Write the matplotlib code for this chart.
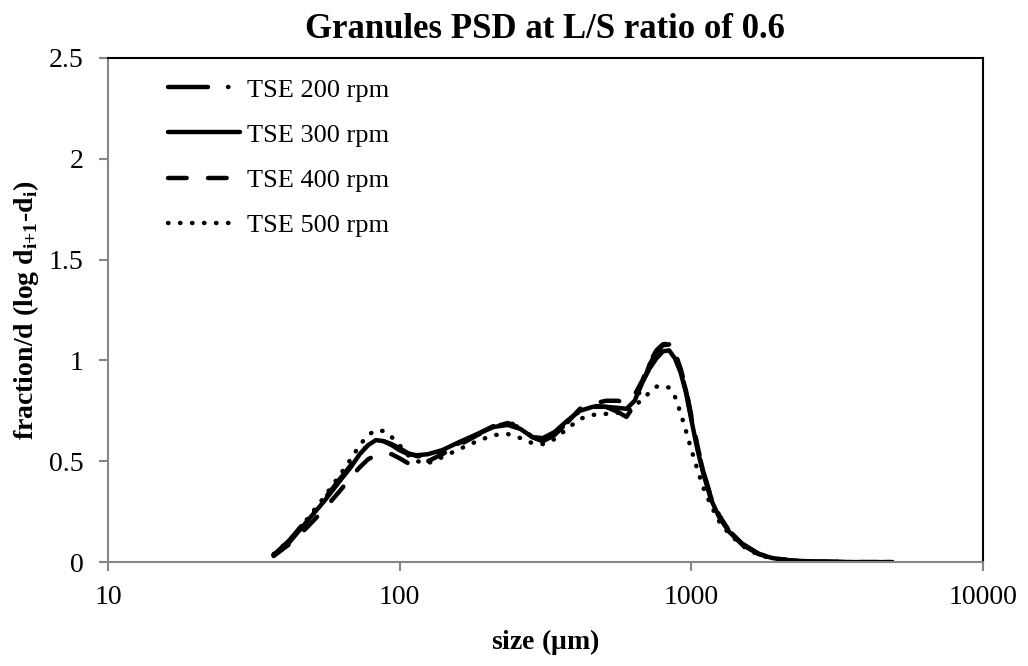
import numpy as np
import matplotlib
matplotlib.use("Agg")
import matplotlib.pyplot as plt

plt.rcParams['font.family'] = ['Liberation Serif', 'DejaVu Serif']
plt.rcParams['mathtext.fontset'] = 'custom'
plt.rcParams['mathtext.rm'] = 'Liberation Serif'
plt.rcParams['mathtext.bf'] = 'Liberation Serif:bold'

# particle size grid (um)
size = [37, 42, 48, 55, 63, 68, 73, 78, 83, 88, 94, 100, 107, 115, 125, 140, 160,
        185, 210, 235, 260, 285, 310, 340, 375, 415, 460, 510, 560, 600, 640, 680,
        720, 760, 800, 840, 880, 920, 960, 1000, 1050, 1100, 1170, 1250, 1350, 1500,
        1700, 1900, 2200, 2600, 3100, 3700, 4300, 4900]

tse_200 = [0.035, 0.11, 0.21, 0.31, 0.42, 0.48, 0.54, 0.58, 0.60, 0.60, 0.585, 0.565,
           0.54, 0.525, 0.525, 0.55, 0.59, 0.635, 0.675, 0.695, 0.67, 0.62, 0.60, 0.63,
           0.69, 0.75, 0.775, 0.77, 0.745, 0.72, 0.78, 0.88, 0.98, 1.04, 1.075, 1.08,
           1.03, 0.95, 0.85, 0.72, 0.57, 0.45, 0.32, 0.23, 0.155, 0.09, 0.042, 0.02,
           0.008, 0.003, 0.001, 0.0, 0.0, 0.0]
tse_300 = [0.035, 0.10, 0.20, 0.30, 0.41, 0.47, 0.535, 0.58, 0.605, 0.60, 0.58, 0.555,
           0.535, 0.53, 0.535, 0.555, 0.595, 0.635, 0.67, 0.68, 0.66, 0.62, 0.615, 0.645,
           0.70, 0.75, 0.77, 0.77, 0.765, 0.76, 0.80, 0.89, 0.96, 1.01, 1.045, 1.05,
           1.01, 0.94, 0.84, 0.71, 0.56, 0.44, 0.31, 0.22, 0.15, 0.085, 0.04, 0.02,
           0.008, 0.003, 0.001, 0.0, 0.0, 0.0]
tse_400 = [0.03, 0.09, 0.17, 0.26, 0.36, 0.42, 0.47, 0.51, 0.53, 0.54, 0.535, 0.515,
           0.49, 0.485, 0.50, 0.535, 0.58, 0.63, 0.67, 0.69, 0.665, 0.62, 0.60, 0.63,
           0.69, 0.76, 0.785, 0.80, 0.80, 0.79, 0.83, 0.90, 0.99, 1.05, 1.08, 1.085,
           1.04, 0.96, 0.86, 0.73, 0.58, 0.45, 0.32, 0.23, 0.155, 0.09, 0.042, 0.02,
           0.008, 0.003, 0.001, 0.0, 0.0, 0.0]
tse_500 = [0.04, 0.11, 0.21, 0.32, 0.44, 0.51, 0.58, 0.63, 0.655, 0.65, 0.62, 0.58,
           0.53, 0.50, 0.49, 0.52, 0.56, 0.60, 0.63, 0.635, 0.615, 0.59, 0.585, 0.61,
           0.66, 0.71, 0.73, 0.735, 0.74, 0.75, 0.77, 0.81, 0.84, 0.87, 0.875, 0.865,
           0.82, 0.74, 0.65, 0.56, 0.46, 0.37, 0.28, 0.20, 0.14, 0.08, 0.035, 0.018,
           0.007, 0.002, 0.001, 0.0, 0.0, 0.0]

labels = ['TSE 200 rpm', 'TSE 300 rpm', 'TSE 400 rpm', 'TSE 500 rpm']

fig = plt.figure(figsize=(10.28, 6.66), dpi=100)
ax = fig.add_axes([0.105, 0.156, 0.851, 0.757])

lw = 3.2
l1, = ax.plot(size, tse_200, color='black', lw=lw, dashes=(9, 4.5, 0.1, 4.5), label=labels[0])
l2, = ax.plot(size, tse_300, color='black', lw=lw, label=labels[1])
l3, = ax.plot(size, tse_400, color='black', lw=lw, dashes=(4.2, 4.8), label=labels[2])
l4, = ax.plot(size, tse_500, color='black', lw=lw, dashes=(0.1, 2.6), label=labels[3])
for l in (l1, l2, l3, l4):
    l.set_dash_capstyle('round')
    l.set_solid_capstyle('round')
    l.set_solid_joinstyle('round')
    l.set_dash_joinstyle('round')

ax.set_xscale('log')
ax.set_xlim(10, 10000)
ax.set_ylim(0, 2.5)
ax.set_xticks([10, 100, 1000, 10000])
ax.set_xticklabels(['10', '100', '1000', '10000'])
ax.xaxis.set_minor_locator(matplotlib.ticker.NullLocator())
ax.set_yticks([0, 0.5, 1, 1.5, 2, 2.5])
ax.set_yticklabels(['0', '0.5', '1', '1.5', '2', '2.5'])

gray = '#868686'
for s in ('left', 'bottom'):
    ax.spines[s].set_color(gray)
    ax.spines[s].set_linewidth(1.5)
for s in ('top', 'right'):
    ax.spines[s].set_color('black')
    ax.spines[s].set_linewidth(1.5)
ax.tick_params(axis='both', colors=gray, labelcolor='black', labelsize=20,
               length=6.5, width=1.5, direction='out')
ax.tick_params(axis='y', pad=11)
ax.tick_params(axis='x', pad=10)

ax.set_title('Granules PSD at L/S ratio of 0.6', fontsize=25, fontweight='bold', pad=14)
ax.set_xlabel(r'size ($\mathbf{\mu}$m)', fontsize=20, fontweight='bold', labelpad=12)
ax.set_ylabel(r'fraction/d (log d$_{\mathbf{i{+}1}}$-d$_{\mathbf{i}}$)', fontsize=20,
              fontweight='bold', labelpad=6)

ax.legend(loc='upper left', bbox_to_anchor=(0.069, 0.96), frameon=False,
          handlelength=2.7, handletextpad=0.3, labelspacing=0.82, fontsize=19,
          borderaxespad=0, borderpad=0)

fig.savefig('out.png', dpi=100)
